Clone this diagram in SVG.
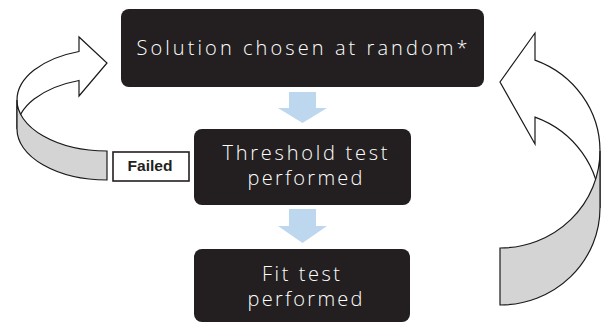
<svg xmlns="http://www.w3.org/2000/svg" width="606" height="323" viewBox="0 0 606 323">
  <style>
    .box { fill: #231f20; }
    .lbl { fill: #ffffff; font-family: "Open Sans", "Noto Sans", sans-serif; font-weight: 300; font-size: 20px; text-anchor: middle; }
    .down { fill: #bdd7ee; }
    .face { fill: #ffffff; stroke: #1a1a1a; stroke-width: 1.2; stroke-linejoin: miter; }
    .back { fill: #d4d4d4; stroke: #1a1a1a; stroke-width: 1.2; }
    .tag { fill: #ffffff; stroke: #231f20; stroke-width: 1.6; }
    .tagtxt { fill: #231f20; font-family: "Liberation Sans", Arial, sans-serif; font-weight: bold; font-size: 14px; text-anchor: middle; }
  </style>
  <rect width="606" height="323" fill="#ffffff"/>

  <g id="connectors">
    <polygon class="down" points="289,92 316,92 316,108 327,108 302.5,123 278,108 289,108"/>
    <polygon class="down" points="289,209 316,209 316,226 327,226 302.5,243 278,226 289,226"/>

    <g id="loop-left">
      <path class="face" d="M79,51.5 L79,37 L107,63 L79,96 L79,80.5 A90,51 0 0 0 17,129 L17,100 A90,51 0 0 1 79,51.5 Z"/>
      <path class="back" d="M17,100 A90,51 0 0 0 107,151 L107,180 A90,51 0 0 1 17,129 Z"/>
    </g>
    <g id="loop-right">
      <path class="face" d="M535,60.1 L535,33 L500,82 L535,144 L535,117.1 A100,97 0 0 1 600,208 L600,151 A100,97 0 0 0 535,60.1 Z"/>
      <path class="back" d="M600,151 A100,97 0 0 1 500,248 L500,305 A100,97 0 0 0 600,208 Z"/>
    </g>
  </g>

  <g id="node-solution">
    <rect class="box" x="121" y="9" width="363" height="78" rx="8"/>
    <text class="lbl" x="302" y="55" font-size="22" textLength="331" lengthAdjust="spacing">Solution chosen at random*</text>
  </g>

  <g id="node-threshold">
    <rect class="box" x="194" y="129" width="217" height="76" rx="8"/>
    <text class="lbl" x="305" y="160" textLength="165" lengthAdjust="spacing">Threshold test</text>
    <text class="lbl" x="305" y="185" textLength="115" lengthAdjust="spacing">performed</text>
  </g>

  <g id="node-fit">
    <rect class="box" x="194" y="249" width="216" height="73" rx="8"/>
    <text class="lbl" x="301" y="281" textLength="78" lengthAdjust="spacing">Fit test</text>
    <text class="lbl" x="305" y="306" textLength="115" lengthAdjust="spacing">performed</text>
  </g>

  <g id="label-failed">
    <rect class="tag" x="113" y="152" width="76" height="29"/>
    <text class="tagtxt" x="150" y="171" textLength="45" lengthAdjust="spacingAndGlyphs">Failed</text>
  </g>
</svg>
